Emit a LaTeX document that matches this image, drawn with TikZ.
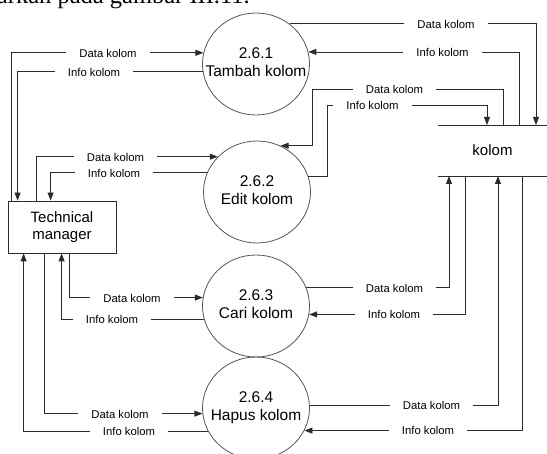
\documentclass[tikz,border=0pt]{standalone}
\usepackage{fontspec}
\setmainfont{Liberation Sans}
\newfontfamily\captionserif{Liberation Serif}
\usetikzlibrary{arrows.meta,shapes.geometric}
\definecolor{DfdLine}{HTML}{2B2B2B}
\definecolor{DfdCircle}{HTML}{555555}
% two centred lines that do not widen the process shape
\newcommand{\proclines}[2]{\makebox[0pt]{\begin{tabular}{@{}c@{}}#1\\#2\end{tabular}}}

\begin{document}
\begin{tikzpicture}[
    x=1pt, y=-1pt,
    process/.style={ellipse, draw=DfdCircle, line width=0.8pt, minimum width=107pt,
      minimum height=102pt, inner sep=0pt,
      font=\fontsize{15.5}{17.5}\selectfont},
    entity/.style={rectangle, draw=DfdLine, line width=0.8pt, minimum width=108pt,
      minimum height=52pt, align=center, font=\fontsize{15}{17}\selectfont},
    datastore/.style={rectangle, minimum width=109pt, minimum height=51pt, outer sep=0pt,
      font=\fontsize{15}{17}\selectfont},
    flow/.style={draw=DfdLine, line width=0.8pt, -{Triangle[length=8pt,width=6pt]}},
    flowlabel/.style={fill=white, inner xsep=13pt, inner ysep=1pt,
      font=\fontsize{11.3}{13}\selectfont}
  ]
  \useasboundingbox (0,0) rectangle (547,454);

  % text of the page above the figure
  \node[anchor=base east, inner sep=0pt, font=\captionserif\fontsize{24.5}{28}\selectfont]
    (pagetext) at (250,4) {barkan pada gambar III.11.};

  % processes, entity and store
  \node[process] (p1) at (256,64) {\proclines{2.6.1}{Tambah kolom}};
  \node[process] (p2) at (257,192) {\proclines{2.6.2}{Edit kolom}};
  \node[process] (p3) at (256,306) {\proclines{2.6.3}{Cari kolom}};
  \node[process] (p4) at (256,408) {\proclines{2.6.4}{Hapus kolom}};
  \node[entity] (tm) at (62,227) {Technical\\manager};
  \node[datastore] (kolom) at (492.5,150.5) {kolom};
  \draw[DfdLine, line width=0.8pt] (kolom.north west) -- (kolom.north east);
  \draw[DfdLine, line width=0.8pt] (kolom.south west) -- (kolom.south east);

  % flows between Technical manager and the processes
  \draw[flow] ([xshift=4pt]tm.north west) |- (p1.168);
  \draw[flow] (p1.188) -| ([xshift=10pt]tm.north west);
  \draw[flow] ([xshift=29pt]tm.north west) |- (p2.138);
  \draw[flow] (p2.159) -| ([xshift=43pt]tm.north west);
  \draw[flow] ([xshift=62pt]tm.south west) |- (p3.171);
  \draw[flow] (p3.194) -| ([xshift=54pt]tm.south west);
  \draw[flow] ([xshift=37pt]tm.south west) |- (p4.186);
  \draw[flow] (p4.206) -| ([xshift=16pt]tm.south west);

  % flows between the processes and kolom
  \draw[flow] (p1.50) -| ([xshift=98pt]kolom.north west);
  \draw[flow] ([xshift=81pt]kolom.north west) |- (p1.13);
  \draw[flow] ([xshift=65pt]kolom.north west) |- (312,89) |- (p2.63);
  \draw[flow] (p2.17) -| (327,105) -| ([xshift=49pt]kolom.north west);
  \draw[flow] (p3.20) -| ([xshift=11pt]kolom.south west);
  \draw[flow] ([xshift=27pt]kolom.south west) |- (p3.-9);
  \draw[flow] (p4.3) -| ([xshift=60pt]kolom.south west);
  \draw[flow] ([xshift=84pt]kolom.south west) |- (p4.-25);

  % labels
  \node[flowlabel] (l1d) at (108,53) {Data kolom};
  \node[flowlabel] (l1i) at (94,72) {Info kolom};
  \node[flowlabel] (l2d) at (115.5,157) {Data kolom};
  \node[flowlabel] (l2i) at (114,173) {Info kolom};
  \node[flowlabel] (l3d) at (132,298) {Data kolom};
  \node[flowlabel] (l3i) at (112,319) {Info kolom};
  \node[flowlabel] (l4d) at (120,414) {Data kolom};
  \node[flowlabel] (l4i) at (129,431) {Info kolom};
  \node[flowlabel] (r1d) at (446,24) {Data kolom};
  \node[flowlabel] (r1i) at (442.5,52) {Info kolom};
  \node[flowlabel] (r2d) at (394.5,89) {Data kolom};
  \node[flowlabel] (r2i) at (372.5,105) {Info kolom};
  \node[flowlabel] (r3d) at (394.5,288) {Data kolom};
  \node[flowlabel] (r3i) at (394,314) {Info kolom};
  \node[flowlabel] (r4d) at (431.5,405) {Data kolom};
  \node[flowlabel] (r4i) at (428,430) {Info kolom};
\end{tikzpicture}
\end{document}
